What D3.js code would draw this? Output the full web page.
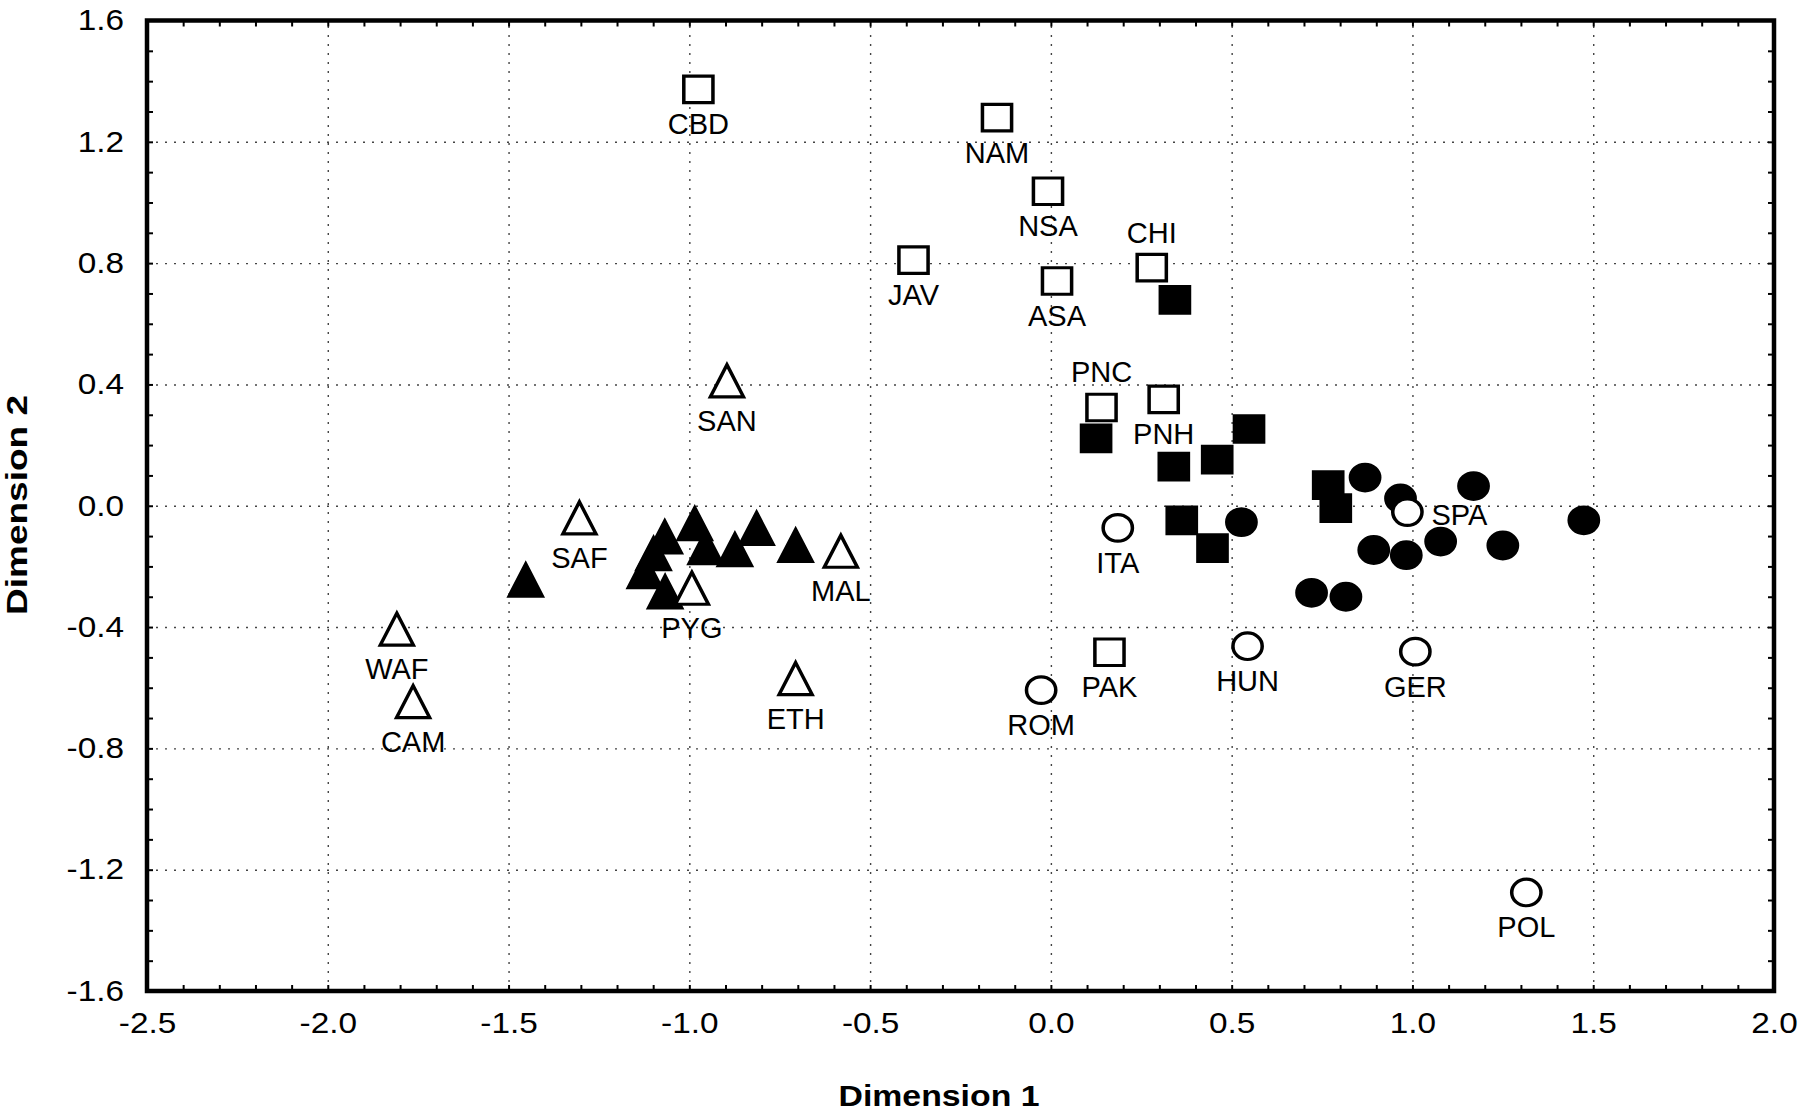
<!DOCTYPE html>
<html>
<head>
<meta charset="utf-8">
<script src="https://cdn.jsdelivr.net/npm/d3@7"></script>
<style>
  body { margin: 0; background: #fff; }
  svg { display: block; }
</style>
</head>
<body>
<div id="wrapper"></div>
<script>
// open (labelled) populations
const squareLabels = ["CBD", "NAM", "NSA", "JAV", "ASA", "CHI", "PNC", "PNH", "PAK"];
const squareDim1 = [-0.975, -0.149, -0.008, -0.380, 0.017, 0.279, 0.140, 0.312, 0.162];
const squareDim2 = [1.373, 1.280, 1.037, 0.810, 0.741, 0.785, 0.324, 0.351, -0.483];

const triangleLabels = ["SAN", "SAF", "MAL", "PYG", "WAF", "CAM", "ETH"];
const triangleDim1 = [-0.896, -1.304, -0.581, -0.993, -1.809, -1.764, -0.706];
const triangleDim2 = [0.412, -0.040, -0.150, -0.272, -0.407, -0.646, -0.570];

const circleLabels = ["ITA", "ROM", "HUN", "GER", "SPA", "POL"];
const circleDim1 = [0.185, -0.027, 0.544, 1.008, 0.986, 1.315];
const circleDim2 = [-0.073, -0.608, -0.463, -0.481, -0.021, -1.275];

// filled (unlabelled) samples
const filledSquareDim1 = [0.343, 0.125, 0.340, 0.460, 0.548, 0.767, 0.788, 0.362, 0.447];
const filledSquareDim2 = [0.679, 0.222, 0.129, 0.152, 0.253, 0.068, -0.008, -0.048, -0.140];

const filledTriangleDim1 = [-1.4525, -1.068, -0.985, -0.814, -0.874, -0.955, -1.099, -1.123, -1.067, -0.706];
const filledTriangleDim2 = [-0.245, -0.103, -0.059, -0.075, -0.145, -0.138, -0.158, -0.217, -0.284, -0.131];

const filledCircleDim1 = [0.527, 0.869, 0.967, 1.169, 1.474, 0.893, 0.983, 1.078, 1.250, 0.721, 0.816];
const filledCircleDim2 = [-0.054, 0.093, 0.024, 0.065, -0.048, -0.146, -0.163, -0.118, -0.131, -0.287, -0.300];

const xTicks = [-2.5, -2.0, -1.5, -1.0, -0.5, 0.0, 0.5, 1.0, 1.5, 2.0];
const yTicks = [1.6, 1.2, 0.8, 0.4, 0.0, -0.4, -0.8, -1.2, -1.6];

function buildPlot() {
    const FONT = "'Liberation Sans', Arial, Helvetica, sans-serif";

    var dimension = {
        width: 1800,
        height: 1112,
        margin: { top: 20.5, left: 147, bottom: 121, right: 26 }
    };
    dimension.boundedWidth = dimension.width - dimension.margin.left - dimension.margin.right;
    dimension.boundedHeight = dimension.height - dimension.margin.top - dimension.margin.bottom;

    const svg = d3.select("#wrapper").append("svg")
        .attr("width", dimension.width)
        .attr("height", dimension.height)
        .style("background", "#fff");

    const bounded = svg.append("g")
        .attr("transform", `translate(${dimension.margin.left},${dimension.margin.top})`);

    const xScaler = d3.scaleLinear().domain([-2.5, 2.0]).range([0, dimension.boundedWidth]);
    const yScaler = d3.scaleLinear().domain([-1.6, 1.6]).range([dimension.boundedHeight, 0]);

    // dotted grid
    const xGrid = bounded.append("g")
        .attr("transform", `translate(0,${dimension.boundedHeight})`)
        .call(d3.axisBottom(xScaler).tickValues(xTicks.slice(1, -1)).tickSize(-dimension.boundedHeight).tickFormat(""));
    const yGrid = bounded.append("g")
        .call(d3.axisLeft(yScaler).tickValues(yTicks.slice(1, -1)).tickSize(-dimension.boundedWidth).tickFormat(""));
    [xGrid, yGrid].forEach(g => {
        g.select(".domain").remove();
        g.selectAll("line")
            .attr("stroke", "#444")
            .attr("stroke-width", 1.4)
            .attr("stroke-dasharray", "2,7");
    });

    // symbols
    const triangleType = {
        draw(context, size) {
            const h = Math.sqrt(size), w = h * 0.94;
            context.moveTo(0, -h / 2);
            context.lineTo(w / 2, h / 2);
            context.lineTo(-w / 2, h / 2);
            context.closePath();
        }
    };
    const squareSym = d3.symbol().type(d3.symbolSquare).size(702);
    const circleSym = d3.symbol().type(d3.symbolCircle).size(556);
    const triangleSym = d3.symbol().type(triangleType).size(1024);

    function drawMarks(xs, ys, sym, fill) {
        bounded.append("g").selectAll("path")
            .data(xs.map((d, i) => ({ x: d, y: ys[i] })))
            .join("path")
            .attr("d", sym())
            .attr("transform", d => `translate(${xScaler(d.x)},${yScaler(d.y)}) scale(1.1,1)`)
            .attr("fill", fill)
            .attr("stroke", "#000")
            .attr("stroke-width", 3.2)
            .attr("stroke-linejoin", "miter");
    }

    drawMarks(filledSquareDim1, filledSquareDim2, squareSym, "#000");
    drawMarks(filledTriangleDim1, filledTriangleDim2, triangleSym, "#000");
    drawMarks(filledCircleDim1, filledCircleDim2, circleSym, "#000");
    drawMarks(squareDim1, squareDim2, squareSym, "#fff");
    drawMarks(triangleDim1, triangleDim2, triangleSym, "#fff");
    drawMarks(circleDim1, circleDim2, circleSym, "#fff");

    // labels, mostly under the symbol
    const labelPlacement = { CHI: "above", PNC: "above", SPA: "right" };
    function drawLabels(labels, xs, ys, below) {
        bounded.append("g").selectAll("text")
            .data(labels.map((d, i) => ({ name: d, x: xs[i], y: ys[i] })))
            .join("text")
            .attr("x", d => xScaler(d.x) + (labelPlacement[d.name] === "right" ? 24 : 0))
            .attr("y", d => {
                const p = labelPlacement[d.name];
                if (p === "above") return yScaler(d.y) - 25;
                if (p === "right") return yScaler(d.y) + 13;
                return yScaler(d.y) + below;
            })
            .attr("text-anchor", d => labelPlacement[d.name] === "right" ? "start" : "middle")
            .attr("font-family", FONT)
            .attr("font-size", 29)
            .attr("fill", "#000")
            .text(d => d.name);
    }
    drawLabels(squareLabels, squareDim1, squareDim2, 45);
    drawLabels(triangleLabels, triangleDim1, triangleDim2, 50);
    drawLabels(circleLabels, circleDim1, circleDim2, 45);

    // small inward ticks on all four sides
    const xMinor = d3.range(-25, 21).map(i => i / 10);
    const yMinor = d3.range(-16, 17).map(i => i / 10);
    const minor = [
        bounded.append("g").attr("transform", `translate(0,${dimension.boundedHeight})`)
            .call(d3.axisBottom(xScaler).tickValues(xMinor).tickSize(-6).tickFormat("")),
        bounded.append("g")
            .call(d3.axisTop(xScaler).tickValues(xMinor).tickSize(-6).tickFormat("")),
        bounded.append("g")
            .call(d3.axisLeft(yScaler).tickValues(yMinor).tickSize(-6).tickFormat("")),
        bounded.append("g").attr("transform", `translate(${dimension.boundedWidth},0)`)
            .call(d3.axisRight(yScaler).tickValues(yMinor).tickSize(-6).tickFormat(""))
    ];
    minor.forEach(g => {
        g.select(".domain").remove();
        g.selectAll("line").attr("stroke", "#000").attr("stroke-width", 2);
    });

    // frame
    bounded.append("rect")
        .attr("width", dimension.boundedWidth)
        .attr("height", dimension.boundedHeight)
        .attr("fill", "none")
        .attr("stroke", "#000")
        .attr("stroke-width", 4.5);

    // tick labels
    const fmt = d => d.toFixed(1);
    const xAxis = bounded.append("g")
        .attr("transform", `translate(0,${dimension.boundedHeight})`)
        .call(d3.axisBottom(xScaler).tickValues(xTicks).tickSize(0).tickPadding(21).tickFormat(fmt));
    const yAxis = bounded.append("g")
        .call(d3.axisLeft(yScaler).tickValues(yTicks).tickSize(0).tickPadding(20).tickFormat(fmt));
    [xAxis, yAxis].forEach(g => {
        g.select(".domain").remove();
        g.attr("font-family", FONT).attr("font-size", 29);
        g.selectAll("text").attr("fill", "#000").attr("transform", "scale(1.15,1)");
    });

    svg.append("text")      // x axis title
        .attr("x", 939)
        .attr("y", 1106)
        .attr("text-anchor", "middle")
        .attr("font-family", FONT)
        .attr("font-weight", "bold")
        .attr("font-size", 30)
        .attr("textLength", 201)
        .attr("lengthAdjust", "spacingAndGlyphs")
        .text("Dimension 1");

    svg.append("text")      // y axis title
        .attr("transform", "translate(27,505) rotate(-90)")
        .attr("text-anchor", "middle")
        .attr("font-family", FONT)
        .attr("font-weight", "bold")
        .attr("font-size", 29)
        .attr("textLength", 220)
        .attr("lengthAdjust", "spacingAndGlyphs")
        .text("Dimension 2");
}

buildPlot();
</script>
</body>
</html>
